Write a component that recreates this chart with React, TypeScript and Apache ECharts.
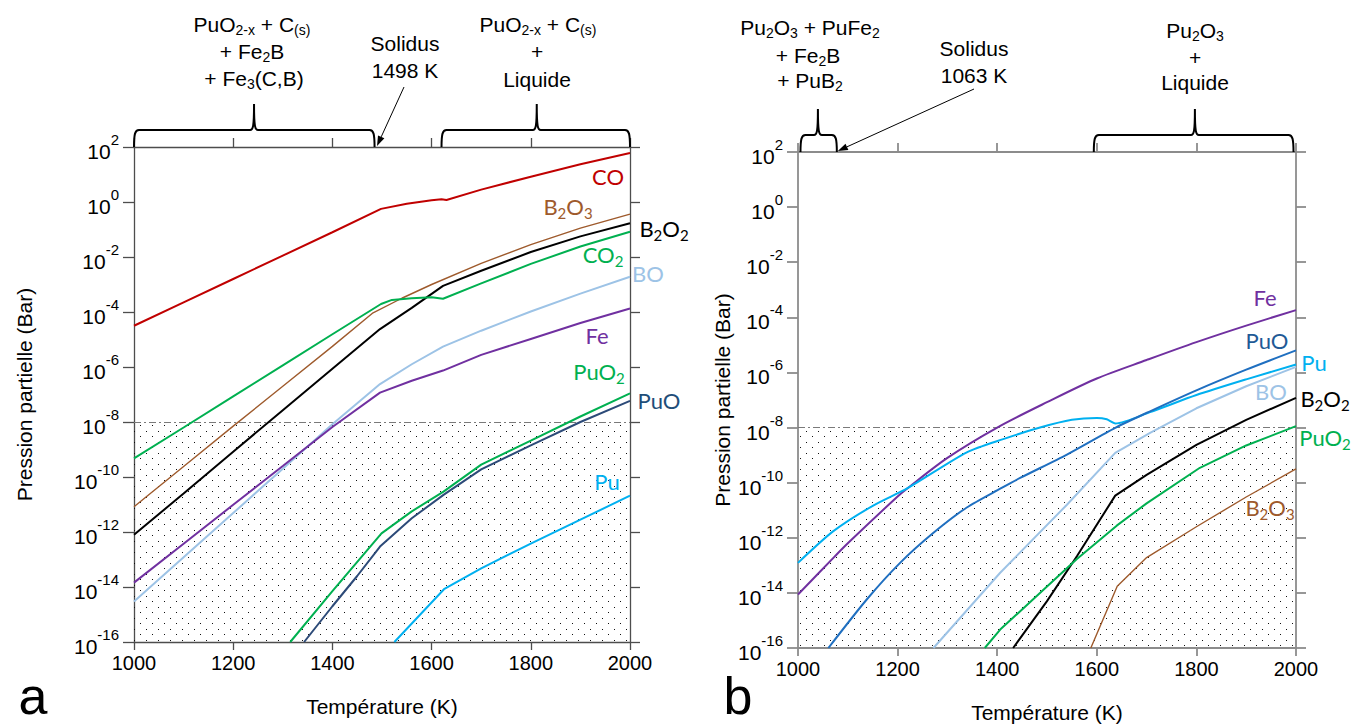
import React, { useEffect, useRef } from "react";
import * as echarts from "echarts";

type Pt = [number, number];

// values are log10(partial pressure / bar) against temperature (K)
// ---------- Panel a ----------
const aCO: Pt[] = [[1000,-4.5],[1100,-3.65],[1200,-2.8],[1300,-1.95],[1400,-1.1],[1498,-0.25],[1550,-0.06],[1600,0.06],[1620,0.1],[1630,0.07],[1700,0.45],[1800,0.92],[1900,1.37],[2000,1.78]];
const aB2O3: Pt[] = [[1000,-11.08],[1100,-9.62],[1200,-8.15],[1300,-6.7],[1400,-5.25],[1482,-4.03],[1540,-3.5],[1600,-3.0],[1700,-2.23],[1800,-1.55],[1900,-0.95],[2000,-0.44]];
const aB2O2: Pt[] = [[1000,-12.1],[1100,-10.6],[1200,-9.08],[1300,-7.57],[1400,-6.06],[1496,-4.62],[1560,-3.85],[1623,-3.05],[1700,-2.5],[1800,-1.82],[1900,-1.25],[2000,-0.77]];
const aCO2: Pt[] = [[1000,-9.32],[1100,-8.2],[1200,-7.07],[1300,-5.94],[1400,-4.81],[1498,-3.71],[1520,-3.56],[1560,-3.5],[1600,-3.46],[1623,-3.52],[1700,-2.96],[1800,-2.25],[1900,-1.62],[2000,-1.08]];
const aBO: Pt[] = [[1000,-14.53],[1100,-12.92],[1200,-11.31],[1300,-9.7],[1400,-8.08],[1496,-6.62],[1560,-5.9],[1623,-5.26],[1700,-4.68],[1800,-3.98],[1900,-3.33],[2000,-2.72]];
const aFe: Pt[] = [[1000,-13.84],[1100,-12.43],[1200,-11.01],[1300,-9.6],[1400,-8.18],[1496,-6.93],[1560,-6.5],[1623,-6.13],[1700,-5.56],[1800,-4.98],[1900,-4.4],[2000,-3.87]];
const aPuO2: Pt[] = [[1315,-16],[1400,-14.15],[1499,-12.05],[1560,-11.25],[1624,-10.53],[1700,-9.55],[1800,-8.68],[1900,-7.8],[2000,-6.96]];
const aPuO: Pt[] = [[1343,-16],[1400,-14.7],[1450,-13.6],[1496,-12.53],[1560,-11.5],[1624,-10.65],[1700,-9.72],[1800,-8.85],[1900,-8.0],[2000,-7.23]];
const aPu: Pt[] = [[1525,-16],[1625,-14.08],[1700,-13.32],[1800,-12.42],[1900,-11.55],[2000,-10.68]];

// ---------- Panel b ----------
const bFe: Pt[] = [[1000,-14.06],[1071,-12.73],[1100,-12.2],[1200,-10.5],[1220,-10.2],[1300,-9.1],[1400,-8.0],[1500,-7.08],[1600,-6.22],[1700,-5.55],[1800,-4.9],[1900,-4.3],[2000,-3.74]];
const bPu: Pt[] = [[1000,-12.91],[1071,-11.76],[1151,-10.83],[1220,-10.2],[1339,-8.9],[1412,-8.42],[1486,-8.0],[1550,-7.72],[1600,-7.65],[1620,-7.7],[1637,-7.85],[1707,-7.44],[1800,-6.82],[1900,-6.25],[2000,-5.71]];
const bPuO: Pt[] = [[1061,-16],[1138,-14.24],[1205,-12.91],[1272,-11.82],[1339,-10.9],[1406,-10.22],[1446,-9.83],[1540,-8.98],[1637,-8.01],[1707,-7.41],[1800,-6.65],[1900,-5.9],[2000,-5.2]];
const bBO: Pt[] = [[1272,-16],[1406,-13.27],[1540,-10.8],[1637,-8.92],[1707,-8.19],[1800,-7.3],[1900,-6.5],[2000,-5.8]];
const bB2O2: Pt[] = [[1432,-16],[1500,-14.3],[1560,-12.67],[1637,-10.47],[1700,-9.72],[1800,-8.63],[1900,-7.72],[2000,-6.92]];
const bPuO2: Pt[] = [[1375,-16],[1406,-15.33],[1500,-13.77],[1560,-12.77],[1640,-11.56],[1700,-10.75],[1807,-9.46],[1900,-8.65],[2000,-7.95]];
const bB2O3: Pt[] = [[1588,-16],[1641,-13.76],[1700,-12.72],[1800,-11.6],[1900,-10.52],[2000,-9.5]];

const T_MIN = 1000, T_MAX = 2000, T_STEP = 200;
const E_MIN = -16, E_MAX = 2, E_STEP = 2;
const LIMIT_EXP = -8;

const C = {
  CO: "#c00000", B2O3: "#9e5a2c", B2O2: "#000000", CO2: "#00b050", BO: "#9dc3e6",
  Fe: "#7030a0", PuO2: "#00b050", PuOa: "#2c4a78", PuOb: "#1f6fc0", Pu: "#00b0f0",
};

const F = "'Liberation Sans', Arial, sans-serif";
const FL = "Lato, 'Open Sans', sans-serif";

export default function App() {
  const ref = useRef<HTMLDivElement>(null);
  useEffect(() => {
    const chart = echarts.init(ref.current!, null, { renderer: "svg" });

    const cv = document.createElement("canvas");
    cv.width = 12; cv.height = 11;
    const g = cv.getContext("2d")!;
    g.fillStyle = "#111";
    g.fillRect(2, 2, 1, 1);
    g.fillRect(8, 7, 1, 1);
    const dots: any = { image: cv, repeat: "repeat", imageWidth: 12, imageHeight: 11 };

    const axisCol = ["#4d4d4d", "#8c8c8c"];
    const axisW = [1.3, 1.8];

    const xAxes: any[] = [];
    const yAxes: any[] = [];
    [0, 1].forEach((gi) => {
      const ls = { color: axisCol[gi], width: axisW[gi] };
      xAxes.push({
        type: "value", gridIndex: gi, position: "bottom", min: T_MIN, max: T_MAX, interval: T_STEP,
        axisLine: { show: true, onZero: false, lineStyle: ls },
        axisTick: { show: true, length: 8, lineStyle: ls },
        axisLabel: { color: "#000", fontSize: 20, fontFamily: F, margin: 11, formatter: (v: number) => String(v) },
        splitLine: { show: false },
      });
      xAxes.push({
        type: "value", gridIndex: gi, position: "top", min: T_MIN, max: T_MAX, interval: T_STEP,
        axisLine: { show: true, onZero: false, lineStyle: ls },
        axisTick: { show: true, length: 9, lineStyle: ls },
        axisLabel: { show: false },
        splitLine: { show: false },
      });
      yAxes.push({
        type: "value", gridIndex: gi, position: "left", min: E_MIN, max: E_MAX, interval: E_STEP,
        axisLine: { show: true, onZero: false, lineStyle: ls },
        axisTick: { show: true, length: 11, lineStyle: ls },
        axisLabel: {
          color: "#000", margin: 15,
          formatter: (v: number) => `{b|10}{s|${v}}`,
          rich: {
            b: { fontSize: 21, fontFamily: F, lineHeight: 30, verticalAlign: "bottom", color: "#000" },
            s: { fontSize: 15, fontFamily: F, lineHeight: 15, verticalAlign: "top", color: "#000" },
          },
        },
        splitLine: { show: false },
      });
      yAxes.push({
        type: "value", gridIndex: gi, position: "right", min: E_MIN, max: E_MAX, interval: E_STEP,
        axisLine: { show: true, onZero: false, lineStyle: ls },
        axisTick: { show: true, length: 10, lineStyle: ls },
        axisLabel: { show: false },
        splitLine: { show: false },
      });
    });

    const line = (name: string, data: Pt[], color: string, gi: number, width = 2, smooth: number | boolean = false) => ({
      type: "line", name, data, xAxisIndex: gi * 2, yAxisIndex: gi * 2,
      symbol: "none", showSymbol: false, silent: true, z: 5,
      smooth,
      lineStyle: { color, width }, itemStyle: { color },
    });

    const shade = (gi: number) => ({
      type: "line", name: "limit" + gi, data: [[T_MIN, E_MIN]], xAxisIndex: gi * 2, yAxisIndex: gi * 2,
      symbol: "none", showSymbol: false, silent: true, z: 1, lineStyle: { opacity: 0 },
      markArea: {
        silent: true, itemStyle: { color: dots, opacity: 1 },
        data: [[{ coord: [T_MIN, E_MIN] }, { coord: [T_MAX, LIMIT_EXP] }]],
      },
      markLine: {
        silent: true, symbol: "none", label: { show: false },
        lineStyle: { type: [7, 3, 2, 3], color: "#7a7a7a", width: 1 },
        data: [{ yAxis: LIMIT_EXP }],
      },
    });

    chart.setOption({
      animation: false,
      backgroundColor: "#fff",
      grid: [
        { left: 134, top: 147, width: 496, height: 495 },
        { left: 798, top: 152, width: 498, height: 496 },
      ],
      xAxis: xAxes,
      yAxis: yAxes,
      series: [
        shade(0), shade(1),
        line("CO", aCO, C.CO, 0),
        line("B2O3", aB2O3, C.B2O3, 0, 1.4),
        line("B2O2", aB2O2, C.B2O2, 0),
        line("CO2", aCO2, C.CO2, 0),
        line("BO", aBO, C.BO, 0),
        line("Fe", aFe, C.Fe, 0),
        line("PuO2", aPuO2, C.PuO2, 0),
        line("PuO", aPuO, C.PuOa, 0),
        line("Pu", aPu, C.Pu, 0),
        line("Fe", bFe, C.Fe, 1, 2, 0.3),
        line("Pu", bPu, C.Pu, 1, 2, 0.25),
        line("PuO", bPuO, C.PuOb, 1, 2, 0.25),
        line("BO", bBO, C.BO, 1),
        line("B2O2", bB2O2, C.B2O2, 1),
        line("PuO2", bPuO2, C.PuO2, 1),
        line("B2O3", bB2O3, C.B2O3, 1, 1.4),
      ],
    });

    const px = (gi: number, t: number, e: number) =>
      chart.convertToPixel({ xAxisIndex: gi * 2, yAxisIndex: gi * 2 } as any, [t, e]) as number[];

    const subRich = (size: number, fam: string) => ({
      s: { fontSize: size, fontFamily: fam, lineHeight: size, verticalAlign: "bottom" },
    });

    const txt = (x: number, y: number, text: string, o: any = {}) => {
      const size = o.size || 21;
      const fam = o.fam || F;
      return {
        type: "text", x, y, silent: true, z: 20, rotation: o.rot || 0,
        style: {
          text, fill: o.color || "#000", fontSize: size, fontFamily: fam,
          lineHeight: o.lh || Math.round(size * 1.25),
          align: o.align || "center", verticalAlign: "middle",
          textAlign: o.align || "center", textVerticalAlign: "middle",
          rich: subRich(o.sub || Math.round(size * 0.67), fam),
        },
      };
    };
    const lab = (x: number, y: number, text: string, color: string) =>
      txt(x, y, text, { size: 22, fam: FL, color, lh: 28, sub: 15 });

    const brace = (name: string, xa: number, xb: number, xc: number, yBase: number) => {
      const bar = yBase - 17, peak = yBase - 43;
      const d = `M${xa},${yBase} C${xa},${bar + 4} ${xa + 1},${bar} ${xa + 5},${bar} L${xc - 4},${bar} C${xc - 1},${bar} ${xc},${bar - 3} ${xc},${peak} C${xc},${bar - 3} ${xc + 1},${bar} ${xc + 4},${bar} L${xb - 5},${bar} C${xb - 1},${bar} ${xb},${bar + 4} ${xb},${yBase}`;
      echarts.graphic.registerShape(name, (echarts.graphic as any).extendPath(d, {}));
      return { type: name, x: 0, y: 0, silent: true, z: 20, style: { stroke: "#000", lineWidth: 2, fill: "none" } };
    };

    const arrow = (x1: number, y1: number, x2: number, y2: number) => {
      const dx = x2 - x1, dy = y2 - y1, L = Math.hypot(dx, dy);
      const ux = dx / L, uy = dy / L, hl = 10, hw = 3.5;
      const bx = x2 - ux * hl, by = y2 - uy * hl;
      return [
        { type: "line", silent: true, z: 20, shape: { x1, y1, x2: bx, y2: by }, style: { stroke: "#000", lineWidth: 1 } },
        {
          type: "polygon", silent: true, z: 20,
          shape: { points: [[x2, y2], [bx - uy * hw, by + ux * hw], [bx + uy * hw, by - ux * hw]] },
          style: { fill: "#000" },
        },
      ];
    };

    const topA = px(0, T_MIN, E_MAX)[1];
    const topB = px(1, T_MIN, E_MAX)[1];
    const botA = px(0, T_MIN, E_MIN)[1];
    const botB = px(1, T_MIN, E_MIN)[1];
    const midA = px(0, 1500, (E_MIN + E_MAX) / 2);
    const midB = px(1, 1500, (E_MIN + E_MAX) / 2);

    const graphic: any[] = [
      // panel a braces & annotations
      brace("braceA1", px(0, 1000, 0)[0], px(0, 1485, 0)[0], px(0, 1242, 0)[0], topA),
      brace("braceA2", px(0, 1620, 0)[0], px(0, 2000, 0)[0], px(0, 1812, 0)[0], topA),
      txt(252, 24, "PuO{s|2-x} + C{s|(s)}"),
      txt(252, 51, "+ Fe{s|2}B"),
      txt(254, 78, "+ Fe{s|3}(C,B)"),
      txt(405, 43, "Solidus"),
      txt(405, 70, "1498 K"),
      ...arrow(404, 87, px(0, 1490, 0)[0], topA - 1),
      txt(538, 24, "PuO{s|2-x} + C{s|(s)}"),
      txt(537, 51, "+"),
      txt(537, 79, "Liquide"),
      // panel b braces & annotations
      brace("braceB1", px(1, 1005, 0)[0], px(1, 1078, 0)[0], px(1, 1040, 0)[0], topB),
      brace("braceB2", px(1, 1594, 0)[0], px(1, 1995, 0)[0], px(1, 1797, 0)[0], topB),
      txt(810, 27, "Pu{s|2}O{s|3} + PuFe{s|2}"),
      txt(808, 55, "+ Fe{s|2}B"),
      txt(810, 80, "+ PuB{s|2}"),
      txt(974, 48, "Solidus"),
      txt(974, 75, "1063 K"),
      ...arrow(974, 89, px(1, 1080, 0)[0], topB - 1),
      txt(1195, 30, "Pu{s|2}O{s|3}"),
      txt(1195, 57, "+"),
      txt(1195, 82, "Liquide"),
      // axis titles
      txt(midA[0], botA + 64, "Température (K)", { size: 21 }),
      txt(midB[0], botB + 64, "Température (K)", { size: 21 }),
      txt(24, midA[1], "Pression partielle (Bar)", { size: 21, rot: Math.PI / 2 }),
      txt(722, midB[1], "Pression partielle (Bar)", { size: 21, rot: Math.PI / 2 }),
      txt(33, 696, "a", { size: 52, lh: 42 }),
      txt(738, 696, "b", { size: 52, lh: 42 }),
      // series labels panel a
      lab(608, 176, "CO", C.CO),
      lab(568, 206, "B{s|2}O{s|3}", C.B2O3),
      lab(664, 228, "B{s|2}O{s|2}", C.B2O2),
      lab(603, 254, "CO{s|2}", C.CO2),
      lab(648, 273, "BO", C.BO),
      lab(597, 335, "Fe", C.Fe),
      lab(599, 371, "PuO{s|2}", C.PuO2),
      lab(659, 400, "PuO", "#1f4e79"),
      lab(607, 481, "Pu", C.Pu),
      // series labels panel b
      lab(1265, 297, "Fe", C.Fe),
      lab(1267, 340, "PuO", "#1f5a96"),
      lab(1314, 362, "Pu", C.Pu),
      lab(1271, 391, "BO", C.BO),
      lab(1325, 398, "B{s|2}O{s|2}", C.B2O2),
      lab(1325, 437, "PuO{s|2}", C.PuO2),
      lab(1270, 507, "B{s|2}O{s|3}", C.B2O3),
    ];
    chart.setOption({ graphic });

    return () => chart.dispose();
  }, []);

  return <div ref={ref} style={{ position: "absolute", left: 0, top: 0, width: 1354, height: 724 }} />;
}
